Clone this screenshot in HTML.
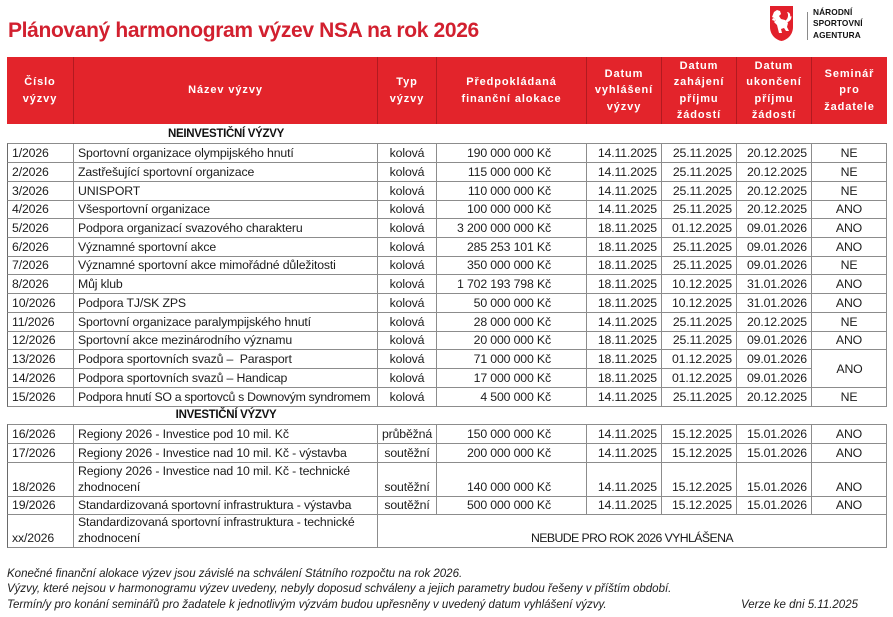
<!DOCTYPE html>
<html><head><meta charset="utf-8">
<style>
html,body{margin:0;padding:0;background:#fff;}
body{width:893px;height:617px;position:relative;overflow:hidden;font-family:"Liberation Sans",Arial,sans-serif;color:#1c1c1c;}
.title{position:absolute;left:8px;top:19.5px;font-size:21px;line-height:21px;font-weight:bold;color:#d2202f;letter-spacing:-0.35px;white-space:nowrap;}
.logotxt{position:absolute;left:813px;top:7px;font-size:8.3px;line-height:11.3px;font-weight:bold;color:#111;letter-spacing:0.1px;}
.vline{position:absolute;left:807px;top:12px;width:1px;height:28px;background:#8a8a8a;}
.hdr{position:absolute;left:7px;top:57px;height:67px;width:880px;background:#e3242b;display:flex;}
.hc{box-sizing:border-box;height:67px;border-right:1px solid #b21a20;display:flex;align-items:center;justify-content:center;text-align:center;color:#fff;font-weight:bold;font-size:11px;line-height:16.3px;letter-spacing:0.9px;}
.hc:last-child{border-right:none;}
.sec{position:absolute;left:74px;width:304px;text-align:center;font-weight:bold;font-size:11.5px;letter-spacing:-0.3px;color:#111;}
.r{position:absolute;left:7px;display:flex;}
.c{box-sizing:border-box;height:100%;border-top:1px solid #8c8c8c;border-right:1px solid #8c8c8c;display:flex;align-items:flex-end;white-space:nowrap;overflow:hidden;line-height:17px;font-size:12.3px;letter-spacing:-0.15px;}
.c:first-child{border-left:1px solid #6a6a6a;}
.last .c{border-bottom:1px solid #8c8c8c;}
.l{justify-content:flex-start;padding-left:4px;}
.ctr{justify-content:center;}
.rt{justify-content:flex-end;padding-right:4px;}
.amt{justify-content:flex-end;padding-right:35px;}
.w1{width:67px}.w2{width:304px}.w3{width:59px}.w4{width:150px}.w5{width:75px}
.foot{position:absolute;left:7px;font-size:11.5px;line-height:13px;font-style:italic;color:#1c1c1c;white-space:nowrap;}
</style></head><body>

<div class="title">Plánovaný harmonogram výzev NSA na rok 2026</div>

<svg width="23" height="35" viewBox="0 0 23 35" style="position:absolute;left:770px;top:6px">
<path d="M0 0H23V21C23 29 17 34 11.5 35C6 34 0 29 0 21Z" fill="#e2202b"/>
<g fill="#fff">
<path d="M4 6l3-2 3 1 1 3-2 2 2 3 4 1 3 3-1 4 2 4-3 0-2-3-3 1 1 4-3 0-1-4-1-4-3-3 2-2-2-2-2-1z"/>
<path d="M15 15c3-2 4-6 2-9 2 0 4 2 3 5 1-2 2-1 1 2-1 2-3 3-5 4z"/>
<path d="M3 12l3 1-1 2-3-1z"/>
</g>
</svg>
<div class="vline"></div>
<div class="logotxt">NÁRODNÍ<br>SPORTOVNÍ<br>AGENTURA</div>

<div class="hdr">
<div class="hc w1">Číslo<br>výzvy</div>
<div class="hc w2">Název výzvy</div>
<div class="hc w3">Typ<br>výzvy</div>
<div class="hc w4">Předpokládaná<br>finanční alokace</div>
<div class="hc w5">Datum<br>vyhlášení<br>výzvy</div>
<div class="hc w5">Datum<br>zahájení<br>příjmu<br>žádostí</div>
<div class="hc w5">Datum<br>ukončení<br>příjmu<br>žádostí</div>
<div class="hc w5">Seminář<br>pro<br>žadatele</div>
</div>

<div class="sec" style="top:126px;line-height:17px;">NEINVESTIČNÍ VÝZVY</div>

<div class="r" style="top:143px;height:19px"><div class="c w1 l">1/2026</div><div class="c w2 l">Sportovní organizace olympijského hnutí</div><div class="c w3 ctr">kolová</div><div class="c w4 amt">190 000 000 Kč</div><div class="c w5 rt">14.11.2025</div><div class="c w5 rt">25.11.2025</div><div class="c w5 rt">20.12.2025</div><div class="c w5 ctr">NE</div></div>
<div class="r" style="top:162px;height:19px"><div class="c w1 l">2/2026</div><div class="c w2 l">Zastřešující sportovní organizace</div><div class="c w3 ctr">kolová</div><div class="c w4 amt">115 000 000 Kč</div><div class="c w5 rt">14.11.2025</div><div class="c w5 rt">25.11.2025</div><div class="c w5 rt">20.12.2025</div><div class="c w5 ctr">NE</div></div>
<div class="r" style="top:181px;height:19px"><div class="c w1 l">3/2026</div><div class="c w2 l">UNISPORT</div><div class="c w3 ctr">kolová</div><div class="c w4 amt">110 000 000 Kč</div><div class="c w5 rt">14.11.2025</div><div class="c w5 rt">25.11.2025</div><div class="c w5 rt">20.12.2025</div><div class="c w5 ctr">NE</div></div>
<div class="r" style="top:200px;height:18px"><div class="c w1 l">4/2026</div><div class="c w2 l">Všesportovní organizace</div><div class="c w3 ctr">kolová</div><div class="c w4 amt">100 000 000 Kč</div><div class="c w5 rt">14.11.2025</div><div class="c w5 rt">25.11.2025</div><div class="c w5 rt">20.12.2025</div><div class="c w5 ctr">ANO</div></div>
<div class="r" style="top:218px;height:19px"><div class="c w1 l">5/2026</div><div class="c w2 l">Podpora organizací svazového charakteru</div><div class="c w3 ctr">kolová</div><div class="c w4 amt">3 200 000 000 Kč</div><div class="c w5 rt">18.11.2025</div><div class="c w5 rt">01.12.2025</div><div class="c w5 rt">09.01.2026</div><div class="c w5 ctr">ANO</div></div>
<div class="r" style="top:237px;height:19px"><div class="c w1 l">6/2026</div><div class="c w2 l">Významné sportovní akce</div><div class="c w3 ctr">kolová</div><div class="c w4 amt">285 253 101 Kč</div><div class="c w5 rt">18.11.2025</div><div class="c w5 rt">25.11.2025</div><div class="c w5 rt">09.01.2026</div><div class="c w5 ctr">ANO</div></div>
<div class="r" style="top:256px;height:18px"><div class="c w1 l">7/2026</div><div class="c w2 l">Významné sportovní akce mimořádné důležitosti</div><div class="c w3 ctr">kolová</div><div class="c w4 amt">350 000 000 Kč</div><div class="c w5 rt">18.11.2025</div><div class="c w5 rt">25.11.2025</div><div class="c w5 rt">09.01.2026</div><div class="c w5 ctr">NE</div></div>
<div class="r" style="top:274px;height:19px"><div class="c w1 l">8/2026</div><div class="c w2 l">Můj klub</div><div class="c w3 ctr">kolová</div><div class="c w4 amt">1 702 193 798 Kč</div><div class="c w5 rt">18.11.2025</div><div class="c w5 rt">10.12.2025</div><div class="c w5 rt">31.01.2026</div><div class="c w5 ctr">ANO</div></div>
<div class="r" style="top:293px;height:19px"><div class="c w1 l">10/2026</div><div class="c w2 l">Podpora TJ/SK ZPS</div><div class="c w3 ctr">kolová</div><div class="c w4 amt">50 000 000 Kč</div><div class="c w5 rt">18.11.2025</div><div class="c w5 rt">10.12.2025</div><div class="c w5 rt">31.01.2026</div><div class="c w5 ctr">ANO</div></div>
<div class="r" style="top:312px;height:19px"><div class="c w1 l">11/2026</div><div class="c w2 l">Sportovní organizace paralympijského hnutí</div><div class="c w3 ctr">kolová</div><div class="c w4 amt">28 000 000 Kč</div><div class="c w5 rt">14.11.2025</div><div class="c w5 rt">25.11.2025</div><div class="c w5 rt">20.12.2025</div><div class="c w5 ctr">NE</div></div>
<div class="r" style="top:331px;height:18px"><div class="c w1 l">12/2026</div><div class="c w2 l">Sportovní akce mezinárodního významu</div><div class="c w3 ctr">kolová</div><div class="c w4 amt">20 000 000 Kč</div><div class="c w5 rt">18.11.2025</div><div class="c w5 rt">25.11.2025</div><div class="c w5 rt">09.01.2026</div><div class="c w5 ctr">ANO</div></div>
<div class="r" style="top:349px;height:19px"><div class="c w1 l">13/2026</div><div class="c w2 l">Podpora sportovních svazů –&nbsp; Parasport</div><div class="c w3 ctr">kolová</div><div class="c w4 amt">71 000 000 Kč</div><div class="c w5 rt">18.11.2025</div><div class="c w5 rt">01.12.2025</div><div class="c w5 rt">09.01.2026</div><div class="c w5 ctr"></div></div>
<div class="r" style="top:368px;height:19px"><div class="c w1 l">14/2026</div><div class="c w2 l">Podpora sportovních svazů – Handicap</div><div class="c w3 ctr">kolová</div><div class="c w4 amt">17 000 000 Kč</div><div class="c w5 rt">18.11.2025</div><div class="c w5 rt">01.12.2025</div><div class="c w5 rt">09.01.2026</div><div class="c w5 ctr" style="border-top:none"></div></div>
<div class="r last" style="top:387px;height:20px"><div class="c w1 l">15/2026</div><div class="c w2 l" style="letter-spacing:-0.3px">Podpora hnutí SO a sportovců s Downovým syndromem</div><div class="c w3 ctr">kolová</div><div class="c w4 amt">4 500 000 Kč</div><div class="c w5 rt">14.11.2025</div><div class="c w5 rt">25.11.2025</div><div class="c w5 rt">20.12.2025</div><div class="c w5 ctr">NE</div></div>
<div style="position:absolute;left:812px;top:350px;width:75px;height:37px;display:flex;align-items:center;justify-content:center;font-size:12.3px;letter-spacing:-0.15px;">ANO</div>

<div class="sec" style="top:406px;line-height:18px;">INVESTIČNÍ VÝZVY</div>

<div class="r" style="top:424px;height:19px"><div class="c w1 l">16/2026</div><div class="c w2 l">Regiony 2026 - Investice pod 10 mil. Kč</div><div class="c w3 ctr">průběžná</div><div class="c w4 amt">150 000 000 Kč</div><div class="c w5 rt">14.11.2025</div><div class="c w5 rt">15.12.2025</div><div class="c w5 rt">15.01.2026</div><div class="c w5 ctr">ANO</div></div>
<div class="r" style="top:443px;height:19px"><div class="c w1 l">17/2026</div><div class="c w2 l">Regiony 2026 - Investice nad 10 mil. Kč - výstavba</div><div class="c w3 ctr">soutěžní</div><div class="c w4 amt">200 000 000 Kč</div><div class="c w5 rt">14.11.2025</div><div class="c w5 rt">15.12.2025</div><div class="c w5 rt">15.01.2026</div><div class="c w5 ctr">ANO</div></div>
<div class="r" style="top:462px;height:34px"><div class="c w1 l">18/2026</div><div class="c w2 l"><span style="line-height:16.7px">Regiony 2026 - Investice nad 10 mil. Kč - technické<br>zhodnocení</span></div><div class="c w3 ctr">soutěžní</div><div class="c w4 amt">140 000 000 Kč</div><div class="c w5 rt">14.11.2025</div><div class="c w5 rt">15.12.2025</div><div class="c w5 rt">15.01.2026</div><div class="c w5 ctr">ANO</div></div>
<div class="r" style="top:496px;height:18px"><div class="c w1 l">19/2026</div><div class="c w2 l">Standardizovaná sportovní infrastruktura - výstavba</div><div class="c w3 ctr">soutěžní</div><div class="c w4 amt">500 000 000 Kč</div><div class="c w5 rt">14.11.2025</div><div class="c w5 rt">15.12.2025</div><div class="c w5 rt">15.01.2026</div><div class="c w5 ctr">ANO</div></div>
<div class="r last" style="top:514px;height:34px"><div class="c w1 l">xx/2026</div><div class="c w2 l"><span style="line-height:16.7px">Standardizovaná sportovní infrastruktura - technické<br>zhodnocení</span></div><div class="c ctr" style="width:509px;letter-spacing:-0.6px">NEBUDE PRO ROK 2026 VYHLÁŠENA</div></div>

<div class="foot" style="top:567.5px">Konečné finanční alokace výzev jsou závislé na schválení Státního rozpočtu na rok 2026.</div>
<div class="foot" style="top:583px">Výzvy, které nejsou v harmonogramu výzev uvedeny, nebyly doposud schváleny a jejich parametry budou řešeny v příštím období.</div>
<div class="foot" style="top:598.5px">Termín/y pro konání seminářů pro žadatele k jednotlivým výzvám budou upřesněny v uvedený datum vyhlášení výzvy.</div>
<div class="foot" style="top:598.5px;left:741px">Verze ke dni 5.11.2025</div>

</body></html>
